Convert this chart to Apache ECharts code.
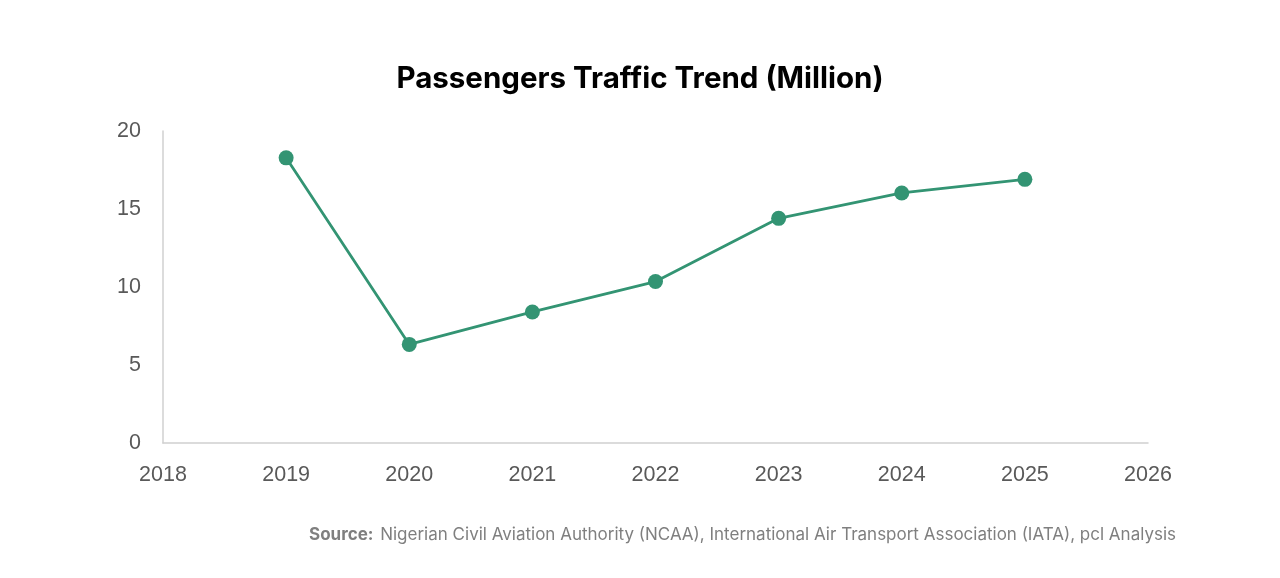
<!DOCTYPE html>
<html><head><meta charset="utf-8">
<script src="https://cdn.jsdelivr.net/npm/echarts@6/dist/echarts.min.js"></script>
<style>html,body{margin:0;padding:0;background:#fff}#c{width:1280px;height:578px}</style>
</head><body><div id="c"></div>
<script>
const years = [2019, 2020, 2021, 2022, 2023, 2024, 2025];
const passengers = [18.28, 6.32, 8.40, 10.35, 14.40, 16.03, 16.90];
const titleText = 'Passengers Traffic Trend (Million)';
const sourceLabel = 'Source:';
const sourceText = 'Nigerian Civil Aviation Authority (NCAA), International Air Transport Association (IATA), pcl Analysis';

const chart = echarts.init(document.getElementById('c'));
chart.setOption({
  animation: false,
  backgroundColor: '#fff',
  title: {
    text: titleText, left: 'center', top: 59,
    textStyle: { fontFamily: 'Inter', fontWeight: 700, fontSize: 29.5, color: '#000' }
  },
  grid: { left: 163, right: 132, top: 131, bottom: 135 },
  xAxis: {
    type: 'value', min: 2018, max: 2026, interval: 1,
    axisLine: { show: true, lineStyle: { color: '#d0d0d0', width: 1.5 } },
    axisTick: { show: false }, splitLine: { show: false },
    axisLabel: { color: '#595959', fontSize: 21.5, fontFamily: 'Liberation Sans', margin: 21, formatter: v => String(v) }
  },
  yAxis: {
    type: 'value', min: 0, max: 20, interval: 5,
    axisLine: { show: true, lineStyle: { color: '#d0d0d0', width: 1.5 } },
    axisTick: { show: false }, splitLine: { show: false },
    axisLabel: { color: '#595959', fontSize: 21.5, fontFamily: 'Liberation Sans', margin: 22 }
  },
  series: [{
    type: 'line',
    data: years.map((y, i) => [y, passengers[i]]),
    symbol: 'circle', symbolSize: 15,
    lineStyle: { color: '#339473', width: 2.8 },
    itemStyle: { color: '#339473' }
  }],
  graphic: [{
    type: 'text', right: 104, top: 526,
    style: {
      text: '{b|' + sourceLabel + '}  {n|' + sourceText + '}',
      rich: {
        b: { fontFamily: 'Inter', fontWeight: 700, fontSize: 17, fill: '#7f7f7f' },
        n: { fontFamily: 'Inter', fontSize: 17, fill: '#7f7f7f' }
      }
    }
  }]
});
</script></body></html>
